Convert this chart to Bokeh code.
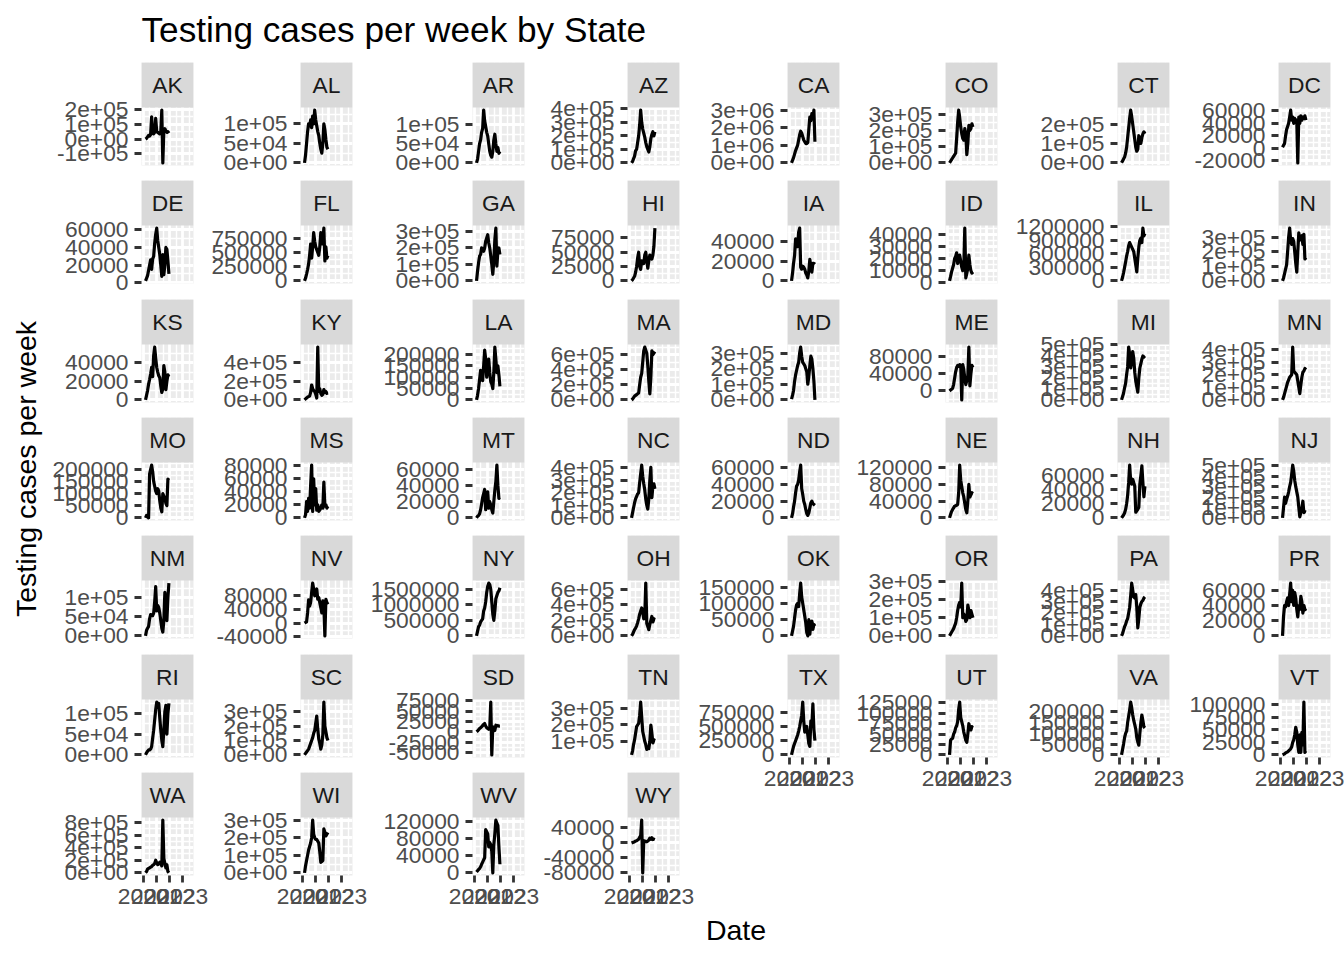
import math
from datetime import datetime, timezone

from bokeh.plotting import figure
from bokeh.layouts import row, column
from bokeh.models import Range1d, FixedTicker, ColumnDataSource, BoxAnnotation, Label
from bokeh.embed import file_html
from bokeh.resources import INLINE
from bokeh.core.properties import value

# ---------------- data ----------------
TITLE = "Testing cases per week by State"
X_TITLE = "Date"
Y_TITLE = "Testing cases per week"

STATES = ["AK", "AL", "AR", "AZ", "CA", "CO", "CT", "DC",
          "DE", "FL", "GA", "HI", "IA", "ID", "IL", "IN",
          "KS", "KY", "LA", "MA", "MD", "ME", "MI", "MN",
          "MO", "MS", "MT", "NC", "ND", "NE", "NH", "NJ",
          "NM", "NV", "NY", "OH", "OK", "OR", "PA", "PR",
          "RI", "SC", "SD", "TN", "TX", "UT", "VA", "VT",
          "WA", "WI", "WV", "WY"]

DATES = ["2020-03-08", "2020-04-05", "2020-05-03", "2020-05-31", "2020-06-28", "2020-07-26",
         "2020-08-23", "2020-09-20", "2020-10-18", "2020-11-15", "2020-12-13", "2021-01-10",
         "2021-02-07", "2021-03-07", "2021-04-04", "2021-05-02", "2021-05-30", "2021-06-27",
         "2021-07-25", "2021-08-22", "2021-09-19", "2021-10-17", "2021-11-14", "2021-12-12"]

# extent of the date column of the data set (axis limits come from it)
DATE_FIRST = "2020-01-22"
DATE_LAST = "2023-08-16"
X_BREAKS = ["2020-01-01", "2021-01-01", "2022-01-01", "2023-01-01"]
X_LABELS = ["2020", "2021", "2022", "2023"]

# weekly tests, in thousands
TESTS_AK = [0, 5, 15, 25, 20, 30, 150, 40, 35, 45, 140, 50, 45, 40, 35, 50, 195, -160, 60, 70, 55, 45, 50, 40]
TESTS_AL = [0, 20, 50, 80, 100, 95, 110, 90, 120, 100, 135, 110, 95, 80, 70, 50, 35, 25, 50, 100, 85, 60, 40, 35]
TESTS_AR = [0, 10, 30, 50, 60, 80, 90, 138, 110, 95, 80, 70, 50, 30, 20, 15, 30, 60, 75, 50, 30, 40, 25, 30]
TESTS_AZ = [0, 10, 30, 50, 90, 100, 150, 200, 280, 390, 300, 250, 220, 190, 150, 120, 100, 80, 120, 180, 210, 230, 200, 230]
TESTS_CA = [0, 150, 300, 500, 700, 850, 1000, 1300, 1600, 1800, 1700, 1500, 1300, 1200, 1100, 1100, 1150, 1900, 2600, 2400, 2800, 2500, 3000, 1200]
TESTS_CO = [0, 10, 20, 30, 40, 50, 60, 150, 250, 324, 280, 220, 180, 150, 140, 210, 180, 50, 120, 230, 200, 210, 240, 220]
TESTS_CT = [0, 10, 20, 30, 50, 80, 130, 180, 230, 272, 240, 200, 160, 120, 80, 60, 70, 140, 120, 100, 130, 150, 160, 150]
TESTS_DC = [2, 5, 8, 20, 30, 35, 40, 50, 61, 45, 50, 40, 48, 42, 45, -23, 50, 40, 52, 45, 50, 48, 52, 45]
TESTS_DE = [2, 5, 8, 14, 20, 26, 15, 27, 30, 45, 55, 62, 48, 40, 32, 20, 7, 32, 9, 20, 40, 38, 25, 10]
TESTS_FL = [0, 50, 120, 200, 300, 450, 650, 400, 600, 850, 700, 600, 550, 500, 450, 600, 850, 650, 700, 930, 350, 600, 400, 450]
TESTS_GA = [0, 60, 110, 150, 160, 200, 190, 180, 200, 240, 260, 280, 230, 200, 150, 100, 40, 120, 250, 320, 90, 180, 200, 160]
TESTS_HI = [0, 2, 5, 8, 15, 25, 40, 50, 25, 20, 35, 30, 30, 45, 50, 35, 22, 35, 45, 40, 38, 45, 60, 92]
TESTS_IA = [0, 8, 18, 26, 43, 40, 35, 50, 54, 14, 12, 15, 14, 12, 8, 6, 3, 10, 22, 15, 9, 18, 18, 17]
TESTS_ID = [1.5, 5, 9, 12, 15, 20, 22, 25, 16, 20, 23, 18, 13, 10, 12, 45.6, 4, 8, 12, 23, 15, 10, 8, 9]
TESTS_IL = [0, 80, 180, 300, 420, 550, 650, 780, 850, 800, 750, 700, 650, 500, 350, 200, 500, 750, 900, 950, 850, 1170, 1000, 1050]
TESTS_IN = [0, 20, 50, 80, 110, 200, 300, 362, 280, 250, 290, 270, 200, 120, 60, 200, 330, 280, 300, 310, 250, 320, 150, 160]
TESTS_KS = [0, 5, 10, 17, 22, 28, 35, 25, 48, 57, 45, 35, 30, 26, 24, 15, 8, 12, 37, 30, 11, 20, 27, 25]
TESTS_KY = [0, 10, 20, 30, 35, 40, 80, 160, 120, 100, 90, 60, 20, 568, 90, 120, 70, 50, 60, 110, 80, 90, 70, 75]
TESTS_LA = [0, 20, 50, 90, 130, 110, 85, 150, 220, 180, 100, 150, 180, 120, 80, 70, 50, 120, 233, 180, 120, 150, 110, 60]
TESTS_MA = [0, 10, 30, 50, 60, 70, 80, 90, 200, 300, 350, 500, 650, 700, 660, 620, 450, 250, 80, 300, 650, 600, 620, 640]
TESTS_MD = [5, 30, 60, 120, 160, 190, 220, 240, 300, 338, 280, 240, 230, 220, 200, 180, 100, 150, 220, 280, 260, 200, 120, 0]
TESTS_ME = [0, 2, 4, 6, 15, 30, 45, 55, 60, 58, 62, 60, -21, 62, 50, 30, 15, 25, 35, 103, 12, 40, 60, 55]
TESTS_MI = [0, 30, 60, 110, 150, 230, 300, 480, 420, 290, 350, 440, 380, 250, 170, 120, 70, 200, 290, 330, 370, 400, 390, 400]
TESTS_MN = [0, 20, 50, 80, 110, 140, 160, 180, 190, 200, 420, 230, 220, 210, 200, 150, 100, 50, 120, 180, 220, 230, 250, 240]
TESTS_MO = [0, 10, 5, 0, 180, 200, 217, 190, 150, 130, 110, 100, 120, 110, 70, 40, 25, 100, 90, 80, 60, 50, 160, 155]
TESTS_MS = [0, 5, 25, 10, 30, 15, 50, 81, 10, 60, 20, 45, 12, 20, 10, 12, 15, 20, 15, 55, 18, 20, 15, 18]
TESTS_MT = [0, 2, 3, 5, 10, 17, 25, 30, 35, 10, 25, 32, 12, 20, 16, 10, 6, 20, 34, 45, 65, 40, 24, 25]
TESTS_NC = [0, 40, 80, 120, 150, 170, 190, 200, 280, 350, 418, 330, 270, 220, 150, 100, 70, 150, 300, 400, 160, 250, 270, 230]
TESTS_ND = [0, 5, 13, 20, 30, 38, 40, 45, 55, 63, 35, 28, 20, 16, 10, 5, 3, 6, 12, 18, 20, 17, 16, 15]
TESTS_NE = [0, 8, 15, 20, 24, 28, 29, 30, 32, 60, 126, 90, 75, 60, 50, 35, 20, 12, 40, 80, 50, 55, 60, 58]
TESTS_NH = [0, 2, 4, 7, 12, 20, 32, 50, 75, 52, 48, 55, 50, 45, 8, 10, 12, 15, 48, 60, 74, 50, 30, 45]
TESTS_NJ = [0, 100, 200, 140, 180, 210, 250, 300, 340, 420, 507, 450, 360, 300, 250, 200, 100, 10, 50, 90, 160, 50, 60, 55]
TESTS_NM = [0, 15, 20, 25, 45, 56, 55, 53, 60, 90, 130, 66, 80, 75, 60, 40, 20, 10, 40, 115, 80, 40, 100, 139]
TESTS_NV = [0, 2, 4, 30, 68, 50, 60, 90, 117, 100, 80, 90, 100, 70, 75, 60, 45, 30, 65, 50, -37, 70, 60, 55]
TESTS_NY = [0, 150, 300, 350, 450, 500, 550, 800, 900, 1100, 1400, 1600, 1700, 1650, 1500, 1100, 700, 500, 800, 1200, 1300, 1400, 1450, 1550]
TESTS_OH = [0, 20, 50, 80, 100, 130, 170, 220, 280, 320, 360, 300, 220, 250, 680, 160, 120, 80, 150, 200, 250, 180, 220, 210]
TESTS_OK = [0, 15, 30, 55, 80, 95, 100, 90, 130, 162, 120, 100, 80, 60, 40, 10, 0, 50, 5, 40, 45, 20, 35, 30]
TESTS_OR = [0, 10, 20, 30, 40, 55, 70, 100, 140, 170, 185, 160, 291, 100, 120, 110, 80, 90, 170, 140, 100, 140, 120, 100]
TESTS_PA = [0, 20, 50, 80, 100, 130, 150, 200, 250, 350, 460, 400, 340, 330, 360, 250, 70, 150, 250, 280, 300, 310, 330, 340]
TESTS_PR = [0, 26, 40, 38, 45, 50, 40, 55, 69.5, 45, 60, 40, 57, 50, 35, 25, 40, 35, 52, 45, 30, 40, 35, 33]
TESTS_RI = [0, 5, 9, 12, 12, 14, 20, 40, 60, 85, 110, 128, 120, 125, 90, 60, 35, 20, 60, 105, 120, 50, 100, 125]
TESTS_SC = [0, 10, 20, 30, 40, 60, 80, 100, 120, 150, 170, 220, 270, 180, 110, 80, 40, 70, 140, 367, 200, 160, 120, 100]
TESTS_SD = [0, 2, 5, 8, 10, 12, 15, 18, 20, 14, 10, 8, 6, 10, 72, -56, 12, 10, 3, 16, 14, 15, 14, 14]
TESTS_TN = [17, 40, 80, 110, 150, 190, 200, 210, 260, 340, 250, 160, 130, 100, 80, 50, 60, 55, 100, 200, 150, 90, 110, 105]
TESTS_TX = [0, 80, 150, 200, 250, 300, 350, 420, 500, 600, 700, 930, 600, 400, 450, 500, 350, 200, 150, 600, 500, 900, 450, 250]
TESTS_UT = [0, 35, 38, 40, 50, 55, 65, 70, 80, 110, 127, 90, 80, 70, 55, 45, 35, 30, 50, 75, 65, 60, 68, 66]
TESTS_VA = [0, 25, 50, 80, 100, 110, 150, 180, 210, 245, 220, 185, 160, 140, 120, 80, 60, 45, 100, 150, 185, 160, 130, 125]
TESTS_VT = [0, 1, 2, 4, 5, 6, 8, 10, 12, 16, 25, 30, 40, 55, 45, 20, 5, 40, 5, 45, 20, 105, 5, 8]
TESTS_WA = [0, 20, 60, 70, 80, 90, 100, 120, 130, 150, 200, 160, 130, 150, 170, 140, 110, 837, 230, 150, 80, 130, 20, 0]
TESTS_WI = [0, 40, 70, 100, 130, 150, 170, 200, 300, 220, 200, 190, 190, 180, 170, 120, 60, 65, 70, 250, 230, 210, 220, 230]
TESTS_WV = [2, 5, 8, 10, 14, 20, 25, 30, 35, 100, 95, 90, 60, 70, 65, 50, 0, 65, 90, 122, 115, 110, 60, 20]
TESTS_WY = [0, 1, 2, 3, 5, 6, 8, 10, 15, 20, 61, -80, 6, 5, 4, 3, 5, 8, 13, 10, 14, 9, 10, 9]

# y-axis breaks of each facet (free y scales)
BREAKS_AK = [-100000, 0, 100000, 200000]
BREAKS_AL = [0, 50000, 100000]
BREAKS_AR = [0, 50000, 100000]
BREAKS_AZ = [0, 100000, 200000, 300000, 400000]
BREAKS_CA = [0, 1000000, 2000000, 3000000]
BREAKS_CO = [0, 100000, 200000, 300000]
BREAKS_CT = [0, 100000, 200000]
BREAKS_DC = [-20000, 0, 20000, 40000, 60000]
BREAKS_DE = [0, 20000, 40000, 60000]
BREAKS_FL = [0, 250000, 500000, 750000]
BREAKS_GA = [0, 100000, 200000, 300000]
BREAKS_HI = [0, 25000, 50000, 75000]
BREAKS_IA = [0, 20000, 40000]
BREAKS_ID = [0, 10000, 20000, 30000, 40000]
BREAKS_IL = [0, 300000, 600000, 900000, 1200000]
BREAKS_IN = [0, 100000, 200000, 300000]
BREAKS_KS = [0, 20000, 40000]
BREAKS_KY = [0, 200000, 400000]
BREAKS_LA = [0, 50000, 100000, 150000, 200000]
BREAKS_MA = [0, 200000, 400000, 600000]
BREAKS_MD = [0, 100000, 200000, 300000]
BREAKS_ME = [0, 40000, 80000]
BREAKS_MI = [0, 100000, 200000, 300000, 400000, 500000]
BREAKS_MN = [0, 100000, 200000, 300000, 400000]
BREAKS_MO = [0, 50000, 100000, 150000, 200000]
BREAKS_MS = [0, 20000, 40000, 60000, 80000]
BREAKS_MT = [0, 20000, 40000, 60000]
BREAKS_NC = [0, 100000, 200000, 300000, 400000]
BREAKS_ND = [0, 20000, 40000, 60000]
BREAKS_NE = [0, 40000, 80000, 120000]
BREAKS_NH = [0, 20000, 40000, 60000]
BREAKS_NJ = [0, 100000, 200000, 300000, 400000, 500000]
BREAKS_NM = [0, 50000, 100000]
BREAKS_NV = [-40000, 0, 40000, 80000]
BREAKS_NY = [0, 500000, 1000000, 1500000]
BREAKS_OH = [0, 200000, 400000, 600000]
BREAKS_OK = [0, 50000, 100000, 150000]
BREAKS_OR = [0, 100000, 200000, 300000]
BREAKS_PA = [0, 100000, 200000, 300000, 400000]
BREAKS_PR = [0, 20000, 40000, 60000]
BREAKS_RI = [0, 50000, 100000]
BREAKS_SC = [0, 100000, 200000, 300000]
BREAKS_SD = [-50000, -25000, 0, 25000, 50000, 75000]
BREAKS_TN = [100000, 200000, 300000]
BREAKS_TX = [0, 250000, 500000, 750000]
BREAKS_UT = [0, 25000, 50000, 75000, 100000, 125000]
BREAKS_VA = [0, 50000, 100000, 150000, 200000]
BREAKS_VT = [0, 25000, 50000, 75000, 100000]
BREAKS_WA = [0, 200000, 400000, 600000, 800000]
BREAKS_WI = [0, 100000, 200000, 300000]
BREAKS_WV = [0, 40000, 80000, 120000]
BREAKS_WY = [-80000, -40000, 0, 40000]

_G = globals()
SERIES = {s: [v * 1000 for v in _G["TESTS_" + s]] for s in STATES}
BREAKS = {s: _G["BREAKS_" + s] for s in STATES}

# ---------------- style / layout ----------------
FONT = "Liberation Sans"
PAGE_W, PAGE_H = 1344, 960
NCOL = 8
FRAME_W = 52
STRIP_H = 45
PANEL_H = 58
AXIS_H = 40
TITLE_H = 62
YLAB_W = 50
CELL_LB = 114          # room for the y tick labels (transparent, may overlap neighbours)
CELL_RB = 22           # room for the overflowing last x label
COL_PANEL_LEFT = [141, 300, 472, 627, 787, 945, 1117, 1278]
ROW_TOPS = [0, 118, 237, 355, 473, 592, 710]   # strip tops, relative to grid top
GRID_H = ROW_TOPS[-1] + STRIP_H + PANEL_H + AXIS_H
XLAB_H = PAGE_H - TITLE_H - GRID_H

PANEL_BG = "#EBEBEB"
STRIP_BG = "#D9D9D9"
LW_MAJOR = 2.8
LW_MINOR = 1.4
LW_DATA = 3.2
TICK_FS = "22.8px"


def ms(s):
    return datetime.strptime(s, "%Y-%m-%d").replace(tzinfo=timezone.utc).timestamp() * 1000.0


X_DATES = [ms(d) for d in DATES]
_x0, _x1 = ms(DATE_FIRST), ms(DATE_LAST)
XLO = _x0 - 0.05 * (_x1 - _x0)
XHI = _x1 + 0.05 * (_x1 - _x0)
XB = [ms(d) for d in X_BREAKS]


def r_format(vals):
    fixed = [str(int(round(v))) for v in vals]
    sci = None
    for d in range(0, 8):
        sci = [f"{v:.{d}e}" for v in vals]
        if all(abs(float(s) - v) <= 1e-9 * max(1.0, abs(v)) for s, v in zip(sci, vals)):
            break
    if max(map(len, fixed)) <= max(map(len, sci)):
        return fixed
    return sci


def minor_breaks(b, lo, hi):
    b = sorted(b)
    if len(b) < 2:
        return []
    bd = b[1] - b[0]
    ext = list(b)
    if lo < b[0]:
        ext = [b[0] - bd] + ext
    if hi > b[-1]:
        ext = ext + [b[-1] + bd]
    mids = [(a + c) / 2.0 for a, c in zip(ext[:-1], ext[1:])]
    return [m for m in mids if lo <= m <= hi]


def style_axis(ax):
    ax.axis_line_color = None
    ax.major_tick_in = 0
    ax.major_tick_out = 7
    ax.major_tick_line_color = "#333333"
    ax.major_tick_line_width = LW_MAJOR
    ax.minor_tick_line_color = None
    ax.major_label_text_font = FONT
    ax.major_label_text_font_size = TICK_FS
    ax.major_label_text_color = "#4D4D4D"
    ax.major_label_standoff = 6


def style_grid(g, ticker):
    g.ticker = ticker
    g.grid_line_color = "white"
    g.grid_line_width = LW_MAJOR
    g.minor_grid_line_color = "white"
    g.minor_grid_line_width = LW_MINOR


def make_cell(state, rb, bottom, show_x):
    """One facet: the strip is the top part of the frame, covered by a box annotation."""
    vals = SERIES[state]
    lo, hi = min(vals), max(vals)
    pad = 0.05 * (hi - lo)
    ylo, yhi = lo - pad, hi + pad
    ytop = yhi + (yhi - ylo) * STRIP_H / PANEL_H
    p = figure(frame_width=FRAME_W, frame_height=STRIP_H + PANEL_H, x_axis_type="datetime",
               x_range=Range1d(XLO, XHI), y_range=Range1d(ylo, ytop),
               x_axis_location="below" if show_x else None, y_axis_location="left",
               title=None, toolbar_location=None, output_backend="svg", tools="",
               min_border_left=CELL_LB, min_border_right=rb, min_border_top=0, min_border_bottom=bottom,
               background_fill_color=PANEL_BG, border_fill_alpha=0.0, outline_line_color=None)
    yb = [b for b in BREAKS[state] if ylo <= b <= yhi]
    ylab = r_format(yb)
    yt = FixedTicker(ticks=yb, minor_ticks=minor_breaks(yb, ylo, yhi))
    xt = FixedTicker(ticks=XB, minor_ticks=minor_breaks(XB, XLO, XHI))
    style_grid(p.xgrid[0], xt)
    style_grid(p.ygrid[0], yt)
    for ax in p.yaxis:
        ax.ticker = yt
        ax.major_label_overrides = {b: l for b, l in zip(yb, ylab)}
        style_axis(ax)
    if show_x:
        for ax in p.xaxis:
            ax.ticker = xt
            ax.major_label_overrides = {b: l for b, l in zip(XB, X_LABELS)}
            style_axis(ax)
    src = ColumnDataSource(dict(date=X_DATES, tests=vals))
    p.line(x="date", y="tests", source=src, line_color="black", line_width=LW_DATA,
           line_join="round")
    p.add_layout(BoxAnnotation(bottom=yhi, fill_color=STRIP_BG, fill_alpha=1.0, line_color=None))
    p.add_layout(Label(x=(XLO + XHI) / 2, y=(yhi + ytop) / 2, text=state, text_align="center",
                       text_baseline="middle", text_font=FONT, text_font_size=TICK_FS,
                       text_color="#1A1A1A"))
    return p


cols = []
prev_end = YLAB_W
for c in range(NCOL):
    rb = (PAGE_W - (COL_PANEL_LEFT[c] + FRAME_W)) if c == NCOL - 1 else CELL_RB
    start = COL_PANEL_LEFT[c] - CELL_LB
    shift = start - prev_end            # negative: the column overlaps its neighbour
    sts = [STATES[r * NCOL + c] for r in range(7) if r * NCOL + c < len(STATES)]
    kids = []
    for r, st in enumerate(sts):
        last = (r == len(sts) - 1)
        bottom = AXIS_H if last else (ROW_TOPS[r + 1] - ROW_TOPS[r] - STRIP_H - PANEL_H)
        kids.append(make_cell(st, rb, bottom, last))
    cols.append(column(kids, spacing=0, margin=(0, 0, 0, shift)))
    prev_end = start + CELL_LB + FRAME_W + rb


def blank(w, h):
    f = figure(width=w, height=h, x_range=Range1d(0, w), y_range=Range1d(0, h),
               x_axis_location=None, y_axis_location=None, title=None, toolbar_location=None,
               output_backend="svg", tools="", min_border=0, min_border_left=0, min_border_right=0,
               min_border_top=0, min_border_bottom=0, outline_line_color=None,
               background_fill_alpha=0.0, border_fill_alpha=0.0)
    f.xgrid.visible = False
    f.ygrid.visible = False
    return f


title_fig = blank(PAGE_W, TITLE_H)
title_fig.text(x=[141], y=[TITLE_H - 28.5], text=[TITLE], text_align="left", text_baseline="middle",
               text_font=value(FONT), text_font_size="35.2px", text_color="black")

ylab_fig = blank(YLAB_W, GRID_H)
ylab_fig.text(x=[25.5], y=[GRID_H - (468.5 - TITLE_H)], text=[Y_TITLE], angle=math.pi / 2,
              text_align="center", text_baseline="middle",
              text_font=value(FONT), text_font_size="28.5px", text_color="black")

xlab_fig = blank(PAGE_W, XLAB_H)
xlab_fig.text(x=[735.5], y=[XLAB_H - (929.7 - TITLE_H - GRID_H)], text=[X_TITLE], text_align="center",
              text_baseline="middle", text_font=value(FONT), text_font_size="28.5px", text_color="black")

layout = column(title_fig, row([ylab_fig] + cols, spacing=0), xlab_fig, spacing=0)

open("out.html", "w").write(file_html(layout, INLINE))
